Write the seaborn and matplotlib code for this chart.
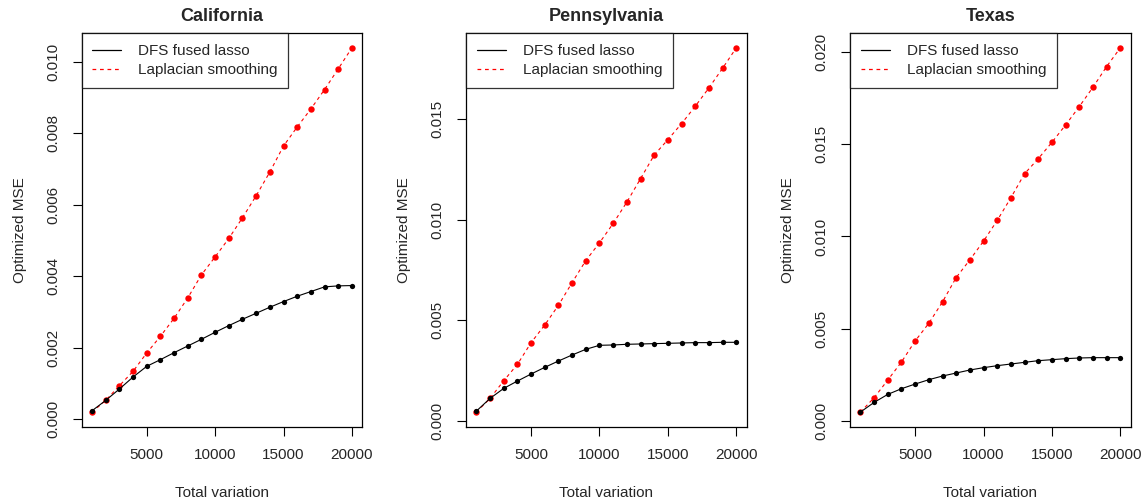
import numpy as np
import pandas as pd
import seaborn as sns
import matplotlib.pyplot as plt
from matplotlib.lines import Line2D

tv = [1000, 2000, 3000, 4000, 5000, 6000, 7000, 8000, 9000, 10000,
      11000, 12000, 13000, 14000, 15000, 16000, 17000, 18000, 19000, 20000]

ca_dfs = [0.000243, 0.000532, 0.000850, 0.001186, 0.001485, 0.001671, 0.001867,
          0.002054, 0.002241, 0.002437, 0.002624, 0.002801, 0.002969, 0.003137,
          0.003296, 0.003445, 0.003576, 0.003707, 0.003735, 0.003744]
ca_lap = [0.000205, 0.000532, 0.000943, 0.001345, 0.001858, 0.002325, 0.002829,
          0.003399, 0.004043, 0.004547, 0.005061, 0.005640, 0.006256, 0.006919,
          0.007647, 0.008179, 0.008683, 0.009225, 0.009804, 0.010392]

pa_dfs = [0.000481, 0.001112, 0.001610, 0.001974, 0.002323, 0.002655, 0.002970,
          0.003269, 0.003551, 0.003750, 0.003766, 0.003800, 0.003816, 0.003833,
          0.003849, 0.003866, 0.003883, 0.003883, 0.003899, 0.003899]
pa_lap = [0.000431, 0.001112, 0.001991, 0.002804, 0.003883, 0.004762, 0.005741,
          0.006869, 0.007964, 0.008844, 0.009806, 0.010868, 0.012029, 0.013207,
          0.013971, 0.014767, 0.015630, 0.016542, 0.017521, 0.018533]

tx_dfs = [0.000488, 0.001013, 0.001447, 0.001754, 0.002007, 0.002242, 0.002441,
          0.002604, 0.002767, 0.002893, 0.003002, 0.003092, 0.003183, 0.003273,
          0.003327, 0.003382, 0.003418, 0.003436, 0.003436, 0.003436]
tx_lap = [0.000488, 0.001266, 0.002224, 0.003201, 0.004340, 0.005298, 0.006456,
          0.007776, 0.008734, 0.009747, 0.010868, 0.012098, 0.013400, 0.014214,
          0.015100, 0.016040, 0.017034, 0.018083, 0.019204, 0.020217]

panels = [
    ('California', ca_dfs, ca_lap, [0, 0.002, 0.004, 0.006, 0.008, 0.010]),
    ('Pennsylvania', pa_dfs, pa_lap, [0, 0.005, 0.010, 0.015]),
    ('Texas', tx_dfs, tx_lap, [0, 0.005, 0.010, 0.015, 0.020]),
]
x_ticks = [5000, 10000, 15000, 20000]

sns.set_style('ticks')
plt.rcParams['font.family'] = ['Liberation Sans', 'DejaVu Sans']

fig = plt.figure(figsize=(11.45, 5), dpi=100)
lefts = [0.0713, 0.407, 0.7424]

for left, (name, dfs, lap, yt) in zip(lefts, panels):
    ax = fig.add_axes([left, 0.1467, 0.2451, 0.7867])
    df = pd.DataFrame({'tv': tv, 'dfs': dfs, 'lap': lap})
    sns.lineplot(data=df, x='tv', y='lap', ax=ax, color='red', linestyle=(0, (3, 3)),
                 linewidth=0.8, marker='o', markersize=4.6, markeredgewidth=0)
    sns.lineplot(data=df, x='tv', y='dfs', ax=ax, color='black', linestyle='-',
                 linewidth=0.8, marker='o', markersize=3.8, markeredgewidth=0)

    xr = max(tv) - min(tv)
    ax.set_xlim(min(tv) - 0.04 * xr, max(tv) + 0.04 * xr)
    lo = min(min(dfs), min(lap))
    hi = max(max(dfs), max(lap))
    ax.set_ylim(lo - 0.04 * (hi - lo), hi + 0.04 * (hi - lo))

    ax.set_xticks(x_ticks)
    ax.set_xticklabels([str(t) for t in x_ticks])
    ax.set_yticks(yt)
    ax.set_yticklabels(['%.3f' % v for v in yt], rotation=90, va='center')
    ax.tick_params(axis='both', direction='out', length=6.5, width=0.8,
                   labelsize=11, pad=9, color='black')

    for s in ax.spines.values():
        s.set_visible(True)
        s.set_color('black')
        s.set_linewidth(0.9)

    ax.set_title(name, fontsize=13, fontweight='bold', pad=9)
    ax.set_xlabel('Total variation', fontsize=11, labelpad=17)
    ax.set_ylabel('Optimized MSE', fontsize=11, labelpad=14)

    handles = [Line2D([], [], color='black', linewidth=0.9),
               Line2D([], [], color='red', linewidth=0.9, linestyle=(0, (3, 3)))]
    leg = ax.legend(handles, ['DFS fused lasso', 'Laplacian smoothing'],
                    loc='upper left', bbox_to_anchor=(0, 1), borderaxespad=0,
                    fontsize=11, frameon=True, fancybox=False, handlelength=1.9,
                    handletextpad=1.1, borderpad=0.7, labelspacing=0.35)
    leg.get_frame().set_edgecolor('black')
    leg.get_frame().set_linewidth(0.9)

fig.savefig('out.png', dpi=100)
